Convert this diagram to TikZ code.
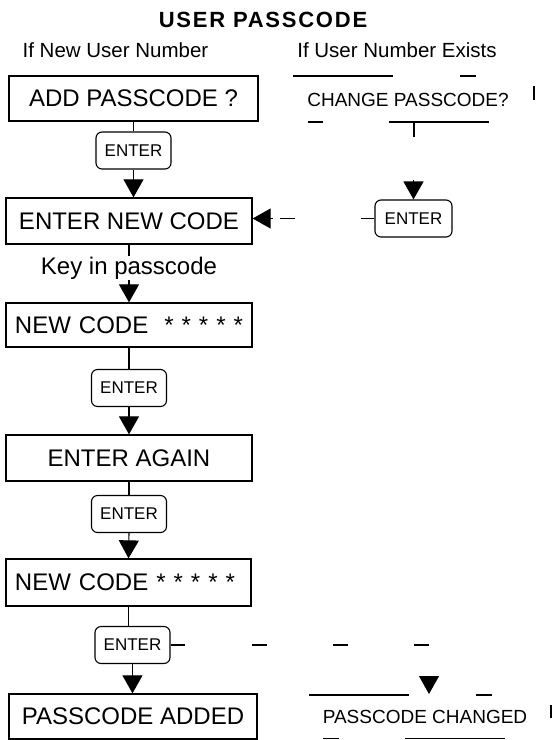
\documentclass[tikz,border=0pt]{standalone}
\usepackage{fontspec}
\setmainfont{Liberation Sans}
\usetikzlibrary{arrows.meta}
\begin{document}
\begin{tikzpicture}[x=1pt,y=-1pt,
  bx/.style={draw, line width=1.3pt, inner sep=0pt, font=\fontsize{24}{28}\selectfont},
  bxl/.style={bx, text width=228pt, align=left, inner xsep=9pt},
  ent/.style={draw, rounded corners=6pt, line width=1.1pt, minimum width=75pt, minimum height=37pt, inner sep=0pt, font=\fontsize{17}{20}\selectfont},
  ln/.style={line width=1.1pt},
  arr/.style={ln, -{Triangle[length=18pt,width=20pt]}},
  seg/.style={line width=1.1pt},
  sub/.style={font=\fontsize{20.5}{24}\selectfont, anchor=base, inner sep=0pt},
  plain/.style={font=\fontsize{19}{22}\selectfont, inner sep=0pt}
]
\useasboundingbox (0,0) rectangle (553,740);

% titles
\node[font=\fontsize{22}{26}\selectfont\bfseries\addfontfeature{LetterSpace=8}, anchor=base, inner sep=0pt] (title) at (263,27) {USER PASSCODE};
\node[sub] (subl) at (115.5,57) {If New User Number};
\node[sub] (subr) at (397,57) {If User Number Exists};

% left column
\node[bx, minimum width=249pt, minimum height=45pt] (add) at (133.5,98.5) {ADD PASSCODE ?};
\node[ent] (e1) at (133.5,150.5) {ENTER};
\node[bx, minimum width=246pt, minimum height=46pt] (enc) at (129,221) {ENTER NEW CODE};
\node[bxl, minimum height=44pt] (nc1) at (129,325) {\mbox{NEW CODE\ \ * * * * *}};
\node[ent] (e2) at (129,388) {ENTER};
\node[bx, minimum width=246pt, minimum height=46pt] (ea) at (129,458) {ENTER AGAIN};
\node[ent] (e3) at (129,514) {ENTER};
\node[bxl, minimum height=47pt, text width=227pt] (nc2) at (128.5,582.5) {\mbox{NEW CODE * * * * *}};
\node[ent] (e4) at (132.5,645) {ENTER};
\node[bx, minimum width=248pt, minimum height=45pt] (pa) at (133,716.5) {PASSCODE ADDED};

\draw[ln] (add.south) -- (e1.north);
\draw[arr] (e1.south) -- (e1.south |- enc.north);
\draw[arr] (enc.south) -- (nc1.north);
\node[font=\fontsize{24}{28}\selectfont, fill=white, inner sep=1pt, anchor=base] (key) at (129,274) {Key in passcode};
\draw[ln] (nc1.south) -- (e2.north);
\draw[arr] (e2.south) -- (ea.north);
\draw[ln] (ea.south) -- (e3.north);
\draw[arr] (e3.south) -- (nc2.north);
\draw[ln] (nc2.south) -- (nc2.south |- e4.north);
\draw[arr] (e4.south) -- (e4.south |- pa.north);

% right column, top
\node[plain] (cp) at (408,100) {CHANGE PASSCODE?};
\draw[seg] (293,76) -- (393,76);
\draw[seg] (460,76) -- (476,76);
\draw[seg] (534,86) -- (534,100);
\draw[seg] (308,122) -- (323,122);
\draw[seg] (389,122) -- (489,122);
\draw[ln] (414,122) -- (414,137);
\node[ent, minimum width=77pt] (er) at (413.5,218.5) {ENTER};
\coordinate (erin) at (er.north |- 0,180);
\draw[arr] (erin) -- (er.north);
\coordinate (d1) at (361,218.5);
\draw[seg] (d1) -- (er.west);
\draw[seg] (280,218.5) -- (295,218.5);
\coordinate (encin) at (273,218.5);
\draw[arr] (encin) -- (enc.east |- encin);

% right column, bottom
\coordinate (f1) at (185,645);
\draw[seg] (e4.east) -- (f1);
\draw[seg] (252,645) -- (267,645);
\draw[seg] (333,645) -- (348,645);
\draw[seg] (414,645) -- (429,645);
\coordinate (pcin) at (429,676);
\coordinate (pctop) at (429,694);
\draw[arr] (pcin) -- (pctop);
\node[plain] (pc) at (425,716.5) {PASSCODE CHANGED};
\draw[seg] (309,695) -- (409,695);
\draw[seg] (476,695) -- (492,695);
\draw[seg] (551,705) -- (551,718);
\draw[seg] (323,738.5) -- (339,738.5);
\draw[seg] (405,738.5) -- (505,738.5);
\end{tikzpicture}
\end{document}
